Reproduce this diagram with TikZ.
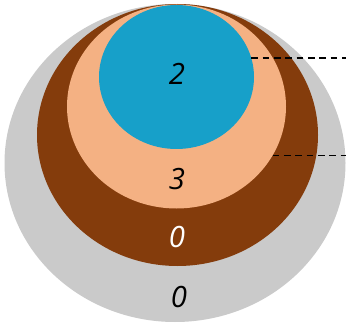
\documentclass[tikz,border=0pt]{standalone}
\usepackage{fontspec}
\setsansfont{Open Sans}
\usetikzlibrary{shapes.geometric}

\definecolor{layergrey}{HTML}{CACACA}
\definecolor{layerbrown}{HTML}{843C0C}
\definecolor{layerpeach}{HTML}{F4B183}
\definecolor{layerblue}{HTML}{17A0C9}

\begin{document}
\begin{tikzpicture}[
    x=0.75pt, y=-0.75pt,
    layer/.style={ellipse, draw=none, inner sep=0pt, outer sep=0pt},
    num/.style={font=\sffamily\itshape\fontsize{22}{26}\selectfont, inner sep=0pt},
    leader/.style={dashed, dash pattern=on 5pt off 3.5pt, line width=1.4pt}]
    \useasboundingbox (0,0) rectangle (346,324);

    % strati, dal piu esterno al piu interno
    \node [layer, fill=layergrey, minimum width=255.75pt, minimum height=238.5pt] (grey) at (175,163) {};
    \node [layer, fill=layerbrown, minimum width=210.75pt, minimum height=196.5pt] (brown) at (177.5,135) {};
    \node [layer, fill=layerpeach, minimum width=164.25pt, minimum height=153pt] (peach) at (176.5,106.5) {};
    \node [layer, fill=layerblue, minimum width=116.25pt, minimum height=108pt] (blue) at (176.5,77) {};

    % etichette
    \node [num] (nblue) at (177,74) {2};
    \node [num] (npeach) at (177,179) {3};
    \node [num, text=white] (nbrown) at (177,237) {0};
    \node [num] (ngrey) at (179,297) {0};

    % linee tratteggiate verso destra
    \coordinate (lead1) at (346,58);
    \coordinate (lead2) at (346,156);
    \draw [leader] (blue.14.3) -- (blue.14.3 -| lead1);
    \draw [leader] (peach.-27.35) -- (peach.-27.35 -| lead2);
\end{tikzpicture}
\end{document}
